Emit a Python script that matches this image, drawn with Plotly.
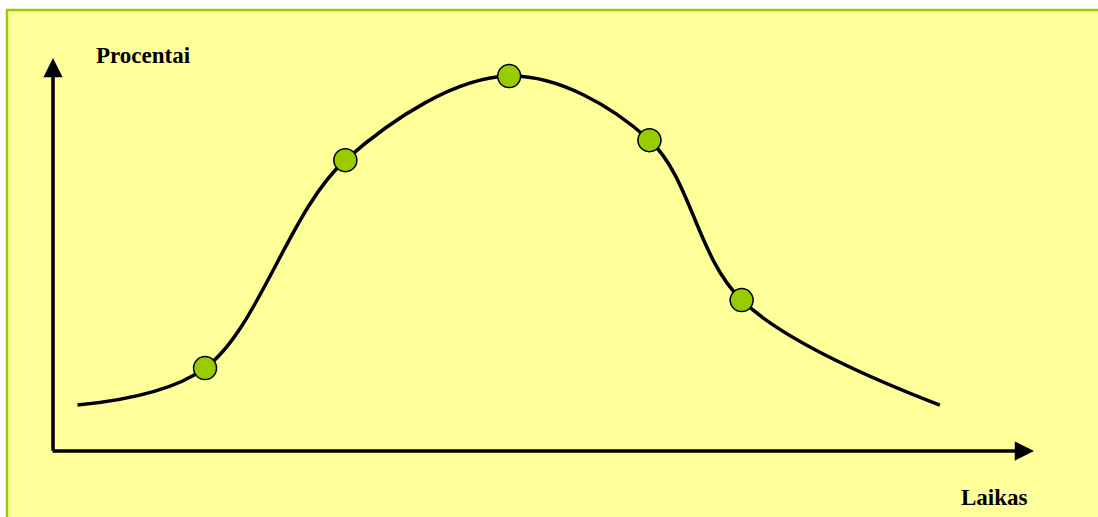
import plotly.graph_objects as go

# kreivės taškai (laikas, procentai)
laikas = [2.5, 15.5, 29.8, 46.5, 60.8, 70.2, 90.4]
procentai = [11.7, 21.1, 74.0, 95.4, 79.1, 38.4, 11.7]

# pažymėti taškai
taskai_x = [15.5, 29.8, 46.5, 60.8, 70.2]
taskai_y = [21.1, 74.0, 95.4, 79.1, 38.4]

W, H = 1098, 517
# pikselių -> ašių vienetai
x_rng = [-53 / 9.81, (W - 53) / 9.81]
y_rng = [(451 - H) / 3.93, 451 / 3.93]

fig = go.Figure()

fig.add_trace(go.Scatter(
    x=laikas, y=procentai, mode='lines',
    line=dict(color='black', width=3.5, shape='spline', smoothing=1.0),
    hoverinfo='skip'))

fig.add_trace(go.Scatter(
    x=taskai_x, y=taskai_y, mode='markers',
    marker=dict(color='#99CC00', size=23, line=dict(color='black', width=1.5))))

# fonas su rėmeliu
fig.add_shape(type='rect', xref='paper', yref='paper',
              x0=7 / W, x1=1.01, y0=-0.02, y1=1 - 10 / H,
              fillcolor='#FFFF99', line=dict(color='#99CC00', width=2.5),
              layer='below')

# ašys su rodyklėmis
fig.add_annotation(x=0, y=100, ax=0, ay=-0.3, xref='x', yref='y', axref='x', ayref='y',
                   text='', showarrow=True, arrowhead=2, arrowsize=1.1, arrowwidth=3.5,
                   arrowcolor='black')
fig.add_annotation(x=100, y=0, ax=-0.2, ay=0, xref='x', yref='y', axref='x', ayref='y',
                   text='', showarrow=True, arrowhead=2, arrowsize=1.1, arrowwidth=3.5,
                   arrowcolor='black')

fig.add_annotation(x=94 / W, y=1 - 55 / H, xref='paper', yref='paper',
                   xanchor='left', yanchor='middle',
                   text='<b>Procentai</b>', showarrow=False,
                   font=dict(family='Liberation Serif', size=23, color='black'))
fig.add_annotation(x=994 / W, y=1 - 497 / H, xref='paper', yref='paper',
                   xanchor='center', yanchor='middle',
                   text='<b>Laikas</b>', showarrow=False,
                   font=dict(family='Liberation Serif', size=23, color='black'))

fig.update_xaxes(range=x_rng, visible=False)
fig.update_yaxes(range=y_rng, visible=False)
fig.update_layout(width=W, height=H, margin=dict(l=0, r=0, t=0, b=0),
                  paper_bgcolor='white', plot_bgcolor='rgba(0,0,0,0)',
                  showlegend=False)

fig.write_html("out.html", config={'displayModeBar': False},
               post_script="document.body.style.margin='0';")
